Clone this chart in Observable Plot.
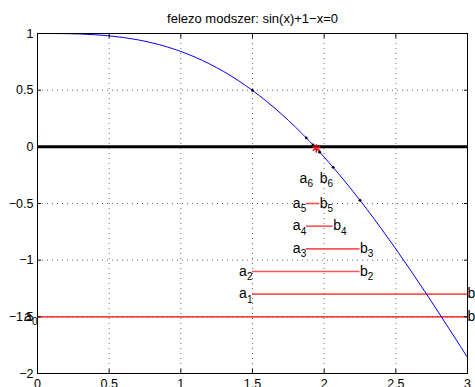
<!DOCTYPE html>
<html>
<head>
<meta charset="utf-8">
<script src="https://cdn.jsdelivr.net/npm/d3@7"></script>
<script src="https://cdn.jsdelivr.net/npm/@observablehq/plot@0.6"></script>
<style>
  body { margin: 0; background: #fff; overflow: hidden; }
</style>
</head>
<body>
<div id="chart"></div>
<script>
// f(x) = sin(x) + 1 - x, sampled on [0, 3]
const curveX = [0, 0.1, 0.2, 0.3, 0.4, 0.5, 0.6, 0.7, 0.8, 0.9, 1.0, 1.1, 1.2, 1.3, 1.4, 1.5,
                1.6, 1.7, 1.8, 1.9, 2.0, 2.1, 2.2, 2.3, 2.4, 2.5, 2.6, 2.7, 2.8, 2.9, 3.0];
const curveY = [1.0000, 0.9998, 0.9987, 0.9955, 0.9894, 0.9794, 0.9646, 0.9442, 0.9174, 0.8833,
                0.8415, 0.7912, 0.7320, 0.6636, 0.5854, 0.4975, 0.3996, 0.2917, 0.1738, 0.0463,
                -0.0907, -0.2368, -0.3915, -0.5543, -0.7245, -0.9015, -1.0845, -1.2726, -1.4650,
                -1.6608, -1.8589];

// bisection brackets [a_k, b_k] and the height each one is drawn at
const aEnds  = [0, 1.5, 1.5, 1.875, 1.875, 1.875, 1.921875];
const bEnds  = [3, 3, 2.25, 2.25, 2.0625, 1.96875, 1.96875];
const levels = [-1.5, -1.3, -1.1, -0.9, -0.7, -0.5, -0.28];

// midpoints evaluated on the curve
const midX = [1.5, 2.25, 1.875, 2.0625, 1.96875, 1.921875];
const midY = [0.4975, -0.4719, 0.0789, -0.1809, -0.0469, 0.0172];

// final approximation of the root
const rootX = [1.9453];
const rootY = [-0.0148];

const xTicks = [0, 0.5, 1, 1.5, 2, 2.5, 3];
const yTicks = [-2, -1.5, -1, -0.5, 0, 0.5, 1];
const title = "felezo modszer: sin(x)+1\u2212x=0";

const curve = curveX.map((x, i) => ({x, y: curveY[i]}));
const brackets = aEnds.map((a, k) => ({a, b: bEnds[k], y: levels[k], k}));
const mids = midX.map((x, i) => ({x, y: midY[i]}));
const root = rootX.map((x, i) => ({x, y: rootY[i]}));

const fmt = d => (d < 0 ? "\u2212" + (-d) : String(d));
const inner = t => t.slice(1, -1);
const dotted = {stroke: "#000", strokeOpacity: 0.6, strokeDasharray: "1,4"};

const chart = Plot.plot({
  width: 475,
  height: 387,
  marginLeft: 37,
  marginRight: 8,
  marginTop: 33,
  marginBottom: 14,
  style: {fontFamily: "'Liberation Sans', Arial, Helvetica, sans-serif", fontSize: "12px", background: "#fff", color: "#000"},
  x: {domain: [0, 3], label: null},
  y: {domain: [-2, 1], label: null},
  marks: [
    Plot.gridX(inner(xTicks), dotted),
    Plot.gridY(inner(yTicks), dotted),
    Plot.ruleY([0], {stroke: "#000", strokeWidth: 3}),
    Plot.ruleY(brackets.slice(0, 1), {y: "y", x1: "a", x2: "b", stroke: "red", strokeWidth: 1.2}),
    Plot.ruleY(brackets.slice(1, 6), {y: "y", x1: "a", x2: "b", stroke: "#ff2a2a", strokeWidth: 1.6, strokeOpacity: 0.8}),
    Plot.line(curve, {x: "x", y: "y", stroke: "blue", strokeWidth: 1, curve: "natural"}),
    Plot.dot(mids, {x: "x", y: "y", r: 1.4, fill: "#000"}),
    Plot.dot(root, {x: "x", y: "y", symbol: "asterisk", stroke: "red", r: 4, strokeWidth: 1.3}),
    // a_k labels, right-aligned at a_k
    Plot.text(brackets, {x: "a", y: "y", text: () => "a", textAnchor: "end", lineAnchor: "bottom", dx: -5.6, dy: 4, fontSize: 14}),
    Plot.text(brackets, {x: "a", y: "y", text: d => String(d.k), textAnchor: "end", lineAnchor: "bottom", dy: 8.5, fontSize: 10}),
    // b_k labels, left-aligned at b_k
    Plot.text(brackets, {x: "b", y: "y", text: () => "b", textAnchor: "start", lineAnchor: "bottom", dy: 4, fontSize: 14}),
    Plot.text(brackets, {x: "b", y: "y", text: d => String(d.k), textAnchor: "start", lineAnchor: "bottom", dx: 7.8, dy: 8.5, fontSize: 10}),
    Plot.text([title], {frameAnchor: "top", lineAnchor: "bottom", dy: -11, fontSize: 13}),
    Plot.frame({stroke: "#000", strokeWidth: 1}),
    // inward ticks on all four sides
    Plot.axisX(xTicks, {anchor: "bottom", tickSize: -4, tickFormat: () => ""}),
    Plot.axisX(xTicks, {anchor: "top", tickSize: -4, tickFormat: () => ""}),
    Plot.axisY(yTicks, {anchor: "left", tickSize: -4, tickFormat: () => ""}),
    Plot.axisY(yTicks, {anchor: "right", tickSize: -4, tickFormat: () => ""}),
    // tick labels
    Plot.axisX(xTicks, {anchor: "bottom", tickSize: 0, tickPadding: 6, tickFormat: fmt, fontSize: 12.5}),
    Plot.axisY(yTicks, {anchor: "left", tickSize: 0, tickPadding: 4, tickFormat: fmt, fontSize: 12.5})
  ]
});
document.getElementById("chart").appendChild(chart);
</script>
</body>
</html>
